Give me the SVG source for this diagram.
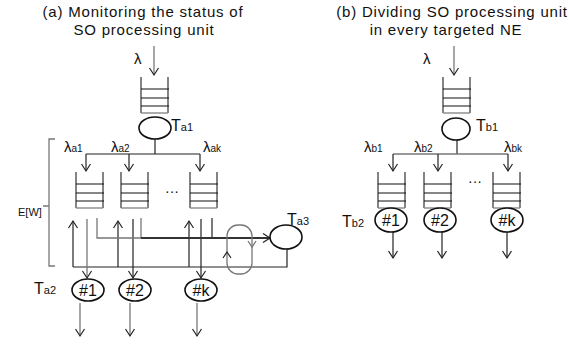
<svg xmlns="http://www.w3.org/2000/svg" width="569" height="344" viewBox="0 0 569 344">
<style>
text{font-family:"Liberation Sans",Arial,sans-serif;fill:#111}
.title{font-size:15px;letter-spacing:0.8px;text-anchor:middle}
.lam{font-size:15px}
.sub{font-size:10px}
.lbl{font-size:16px}
.lsub{font-size:11px}
.num{font-size:16px;text-anchor:middle}
.ln{stroke:#222;stroke-width:1.2;fill:none}
.gr{stroke:#777;stroke-width:1.3;fill:none}
.bd{stroke:#333;stroke-width:1.8;fill:none}
.el{stroke:#111;stroke-width:1.6;fill:#fff}
.ar{marker-end:url(#ah)}
</style>
<defs>
<marker id="ah" markerUnits="userSpaceOnUse" viewBox="-9 -6 11 12" refX="0" refY="0" markerWidth="11" markerHeight="12" orient="auto">
<path d="M-7,-4.5 L0,0 L-7,4.5" fill="none" stroke="#222" stroke-width="1.2"/>
</marker>
<g id="queue">
<path d="M0,0 V36 M27,0 V36" stroke="#333" stroke-width="1.2" fill="none"/>
<path d="M0,36 H27" stroke="#888" stroke-width="1.4"/>
<path d="M0,12 H28 M0,21 H28 M0,29 H28" stroke="#111" stroke-width="1.2"/>
</g>
</defs>

<!-- Titles -->
<g id="title-a">
<text class="title" x="143" y="17">(a) Monitoring the status of</text>
<text class="title" x="144" y="35">SO processing unit</text>
</g>
<g id="title-b">
<text class="title" x="452" y="17">(b) Dividing SO processing unit</text>
<text class="title" x="446" y="35">in every targeted NE</text>
</g>

<!-- Connectors -->
<g id="connectors">
<!-- (a) top -->
<path class="gr ar" d="M154,46 V75"/>
<path class="ln" d="M155,139 V154"/>
<path class="ln" d="M86,154 H200"/>
<path class="ln ar" d="M86,154 V171"/>
<path class="ln ar" d="M129,154 V171"/>
<path class="ln ar" d="M200,154 V171"/>
<!-- (a) bottom -->
<path class="ln" d="M73,267 H287 V248"/>
<path class="ln ar" d="M73,267 V221"/>
<path class="ln ar" d="M118,267 V221"/>
<path class="ln ar" d="M189,267 V221"/>
<path class="gr ar" d="M87,219 V278"/>
<path class="ln ar" d="M133,219 V278"/>
<path class="ln ar" d="M201,219 V278"/>
<path class="gr" d="M97,218 V238 H141"/>
<path class="gr" d="M141,218 V238"/>
<path class="ln" d="M212,218 V238"/>
<path class="bd ar" d="M141,238 H270"/>
<rect class="gr" x="227" y="225" width="25" height="49" rx="11" ry="11"/>
<path class="ln" d="M223,258 L227,252 L231,258"/>
<path class="gr" d="M248,241 L252,247 L256,241"/>
<path class="gr ar" d="M80,303 V336"/>
<path class="gr ar" d="M130,303 V336"/>
<path class="gr ar" d="M197,303 V336"/>
<!-- bracket -->
<path class="gr" d="M55,139 H49 V266 H55 M49,206 H43"/>
<!-- (b) -->
<path class="gr ar" d="M454,46 V75"/>
<path class="ln" d="M457,140 V154"/>
<path class="gr" d="M393,154 H508"/>
<path class="ln ar" d="M393,154 V171"/>
<path class="ln ar" d="M438,154 V171"/>
<path class="ln ar" d="M508,154 V171"/>
<path class="ln ar" d="M393,232 V258"/>
<path class="ln ar" d="M442,232 V258"/>
<path class="ln ar" d="M507,232 V258"/>
</g>

<!-- (a) nodes -->
<g id="a-lambda"><text class="lam" x="134" y="64">λ</text></g>
<g id="a-queue-top"><use href="#queue" x="141" y="77"/></g>
<g id="a-Ta1">
<ellipse class="el" cx="155" cy="128" rx="16" ry="11"/>
<text class="lbl" x="171" y="131">T<tspan class="lsub">a1</tspan></text>
</g>
<g id="a-labels">
<text class="lam" x="64" y="152">λ<tspan class="sub">a1</tspan></text>
<text class="lam" x="111" y="152">λ<tspan class="sub">a2</tspan></text>
<text class="lam" x="203" y="152">λ<tspan class="sub">ak</tspan></text>
</g>
<g id="a-q1"><use href="#queue" x="76" y="172"/></g>
<g id="a-q2"><use href="#queue" x="121" y="172"/></g>
<g id="a-qk"><use href="#queue" x="190" y="172"/></g>
<g id="a-dots"><text x="165" y="196" style="font-size:14px">···</text></g>
<g id="a-EW"><text x="18" y="216" style="font-size:11px">E[W]</text></g>
<g id="a-Ta3">
<ellipse class="el" cx="286" cy="237" rx="16" ry="12"/>
<text class="lbl" x="287" y="225">T<tspan class="lsub">a3</tspan></text>
</g>
<g id="a-Ta2"><text class="lbl" x="34" y="294">T<tspan class="lsub">a2</tspan></text></g>
<g id="a-s1"><ellipse class="el" cx="88" cy="290" rx="16" ry="11"/><text class="num" x="88" y="296">#1</text></g>
<g id="a-s2"><ellipse class="el" cx="135" cy="290" rx="16" ry="11"/><text class="num" x="135" y="296">#2</text></g>
<g id="a-sk"><ellipse class="el" cx="201" cy="290" rx="16" ry="11"/><text class="num" x="201" y="296">#k</text></g>

<!-- (b) nodes -->
<g id="b-lambda"><text class="lam" x="423" y="64">λ</text></g>
<g id="b-queue-top"><use href="#queue" x="443" y="77"/></g>
<g id="b-Tb1">
<ellipse class="el" cx="456" cy="129" rx="14" ry="11"/>
<text class="lbl" x="476" y="131">T<tspan class="lsub">b1</tspan></text>
</g>
<g id="b-labels">
<text class="lam" x="364" y="152">λ<tspan class="sub">b1</tspan></text>
<text class="lam" x="414" y="152">λ<tspan class="sub">b2</tspan></text>
<text class="lam" x="504" y="152">λ<tspan class="sub">bk</tspan></text>
</g>
<g id="b-q1"><use href="#queue" x="378" y="172"/></g>
<g id="b-q2"><use href="#queue" x="424" y="172"/></g>
<g id="b-qk"><use href="#queue" x="493" y="172"/></g>
<g id="b-dots"><text x="468" y="186" style="font-size:14px">···</text></g>
<g id="b-Tb2"><text class="lbl" x="342" y="227">T<tspan class="lsub">b2</tspan></text></g>
<g id="b-s1"><ellipse class="el" cx="391" cy="220" rx="16" ry="12"/><text class="num" x="391" y="226">#1</text></g>
<g id="b-s2"><ellipse class="el" cx="440" cy="220" rx="16" ry="12"/><text class="num" x="440" y="226">#2</text></g>
<g id="b-sk"><ellipse class="el" cx="507" cy="220" rx="16" ry="12"/><text class="num" x="507" y="226">#k</text></g>
</svg>
